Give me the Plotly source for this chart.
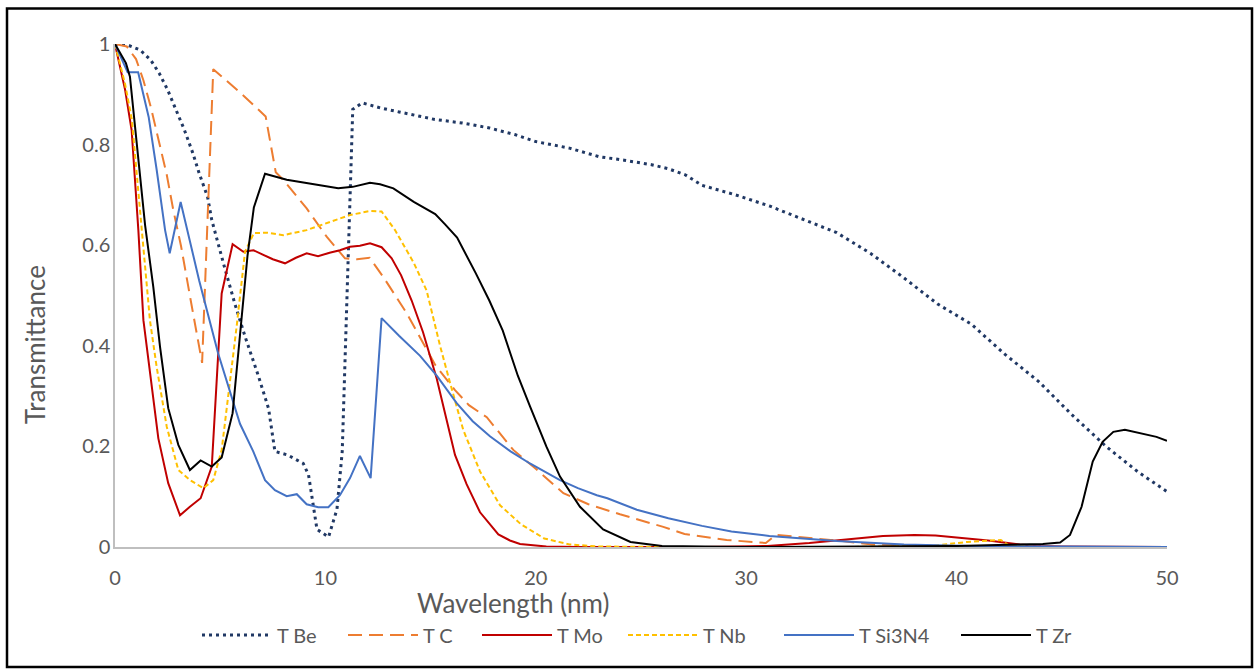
import plotly.graph_objects as go

# ---- data ----
be_x = [0, 0.6, 1.2, 1.7, 2.1, 2.5, 2.9, 3.3, 3.7, 4.0, 4.4, 4.6, 5.2, 5.7, 6.2, 6.8, 7.3, 7.6,
        8.2, 8.95, 9.2, 9.6, 10.15, 10.55, 10.8, 11.3, 11.75, 12.6, 13.5, 15.2, 16.5, 17.8, 19.0,
        20.0, 21.6, 23.0, 24.2, 25.5, 26.3, 27.1, 27.9, 29.5, 31.1, 32.7, 34.3, 35.9, 37.5, 39.1,
        40.7, 42.3, 43.9, 45.5, 47.1, 48.6, 50]
be_y = [1.0, 0.998, 0.988, 0.968, 0.942, 0.909, 0.869, 0.829, 0.783, 0.743, 0.696, 0.65, 0.557,
        0.483, 0.416, 0.342, 0.275, 0.19, 0.183, 0.166, 0.143, 0.035, 0.02, 0.075, 0.19, 0.87,
        0.883, 0.873, 0.865, 0.85, 0.843, 0.833, 0.82, 0.806, 0.793, 0.776, 0.769, 0.76, 0.752,
        0.74, 0.719, 0.70, 0.678, 0.652, 0.625, 0.584, 0.535, 0.483, 0.443, 0.383, 0.329, 0.262,
        0.2, 0.15, 0.11]

c_x = [0, 0.56, 1.0, 1.35, 1.7, 2.06, 2.46, 2.77, 3.14, 3.63, 4.14, 4.67, 6.04, 7.16, 7.64, 8.0,
       9.11, 10.06, 10.93, 11.5, 12.1, 12.75, 13.86, 15.22, 16.16, 16.82, 17.67, 18.93, 20.04,
       21.31, 22.5, 24.0, 26.06, 27.07, 29.07, 30.93, 31.41, 34.3, 36.0, 40.0, 45.0, 50.0]
c_y = [1.0, 0.995, 0.97, 0.928, 0.875, 0.809, 0.74, 0.67, 0.598, 0.483, 0.366, 0.95, 0.9, 0.856,
       0.745, 0.73, 0.673, 0.617, 0.574, 0.572, 0.575, 0.537, 0.465, 0.362, 0.312, 0.282, 0.258,
       0.193, 0.154, 0.107, 0.085, 0.065, 0.04, 0.026, 0.014, 0.008, 0.024, 0.013, 0.005, 0.002,
       0.0, 0.0]

mo_x = [0, 0.48, 0.79, 0.95, 1.11, 1.35, 1.58, 2.06, 2.53, 3.09, 3.56, 4.07, 4.6, 5.07, 5.59,
        6.1, 6.58, 7.5, 8.08, 8.6, 9.11, 9.65, 10.2, 10.69, 11.17, 11.64, 12.12, 12.67, 13.15,
        13.6, 14.1, 14.64, 15.29, 15.76, 16.16, 16.71, 17.35, 18.22, 18.77, 19.25, 20.5, 22, 25,
        28, 31, 33, 35, 36.5, 38, 39, 40, 41.5, 43, 44, 45, 47, 50]
mo_y = [1.0, 0.909, 0.829, 0.73, 0.63, 0.451, 0.372, 0.216, 0.127, 0.063, 0.08, 0.097, 0.16,
        0.504, 0.602, 0.587, 0.59, 0.572, 0.564, 0.575, 0.584, 0.578, 0.585, 0.59, 0.597, 0.599,
        0.604, 0.596, 0.574, 0.54, 0.49, 0.427, 0.335, 0.252, 0.183, 0.125, 0.069, 0.025, 0.013,
        0.006, 0.001, 0.0, 0.0, 0.0, 0.002, 0.008, 0.016, 0.022, 0.024, 0.023, 0.019, 0.013,
        0.005, 0.002, 0.001, 0.0, 0.0]

nb_x = [0, 0.48, 0.8, 1.0, 1.27, 1.66, 1.98, 2.46, 3.01, 3.56, 4.2, 4.67, 5.07, 5.39, 5.78, 6.18,
        6.6, 7.2, 8.0, 9.11, 10.06, 11.17, 12.12, 12.67, 13.31, 14.2, 14.81, 15.45, 15.9, 16.55,
        17.35, 18.3, 19.3, 20.4, 21.6, 23, 26, 30, 35, 39, 40.5, 42.1, 42.5, 44, 50]
nb_y = [1.0, 0.92, 0.85, 0.76, 0.64, 0.451, 0.358, 0.239, 0.153, 0.133, 0.117, 0.133, 0.193,
        0.299, 0.438, 0.587, 0.624, 0.625, 0.62, 0.63, 0.644, 0.66, 0.668, 0.667, 0.63, 0.565,
        0.51, 0.4, 0.33, 0.233, 0.15, 0.083, 0.045, 0.017, 0.005, 0.001, 0.0, 0.0, 0.0, 0.003,
        0.01, 0.014, 0.003, 0.0, 0.0]

si_x = [0, 0.6, 1.1, 1.6, 1.98, 2.38, 2.6, 3.12, 4.0, 4.9, 5.94, 6.57, 7.13, 7.6, 8.16, 8.64,
        9.11, 9.66, 10.14, 10.69, 11.17, 11.64, 12.15, 12.67, 13.5, 14.5, 15.3, 16.24, 17.0,
        17.82, 18.8, 19.72, 21.15, 22.0, 22.9, 23.4, 24.8, 26.3, 27.9, 29.3, 31.1, 34.3, 37.5,
        40.7, 45, 50]
si_y = [1.0, 0.944, 0.944, 0.855, 0.75, 0.63, 0.584, 0.686, 0.53, 0.385, 0.245, 0.19, 0.133,
        0.113, 0.101, 0.105, 0.085, 0.079, 0.079, 0.103, 0.137, 0.181, 0.137, 0.455, 0.42, 0.38,
        0.34, 0.286, 0.25, 0.22, 0.19, 0.166, 0.133, 0.117, 0.103, 0.097, 0.074, 0.057, 0.042,
        0.031, 0.022, 0.012, 0.005, 0.002, 0.001, 0.0]

zr_x = [0, 0.52, 0.71, 1.03, 1.43, 1.82, 2.14, 2.53, 3.01, 3.56, 4.07, 4.6, 5.07, 5.59, 5.94,
        6.3, 6.6, 7.13, 8.16, 9.11, 10.61, 11.3, 12.12, 12.6, 13.23, 14.2, 15.22, 15.7, 16.26,
        17.15, 17.79, 18.43, 19.15, 19.72, 20.5, 21.15, 22.1, 23.2, 24.5, 26, 30, 40, 44.1, 44.92,
        45.39, 45.94, 46.47, 46.94, 47.45, 48.0, 49.5, 50]
zr_y = [1.0, 0.962, 0.935, 0.809, 0.64, 0.517, 0.398, 0.276, 0.203, 0.153, 0.172, 0.16, 0.178,
        0.266, 0.42, 0.58, 0.675, 0.742, 0.73, 0.723, 0.713, 0.716, 0.724, 0.721, 0.713, 0.686,
        0.662, 0.641, 0.615, 0.544, 0.49, 0.43, 0.34, 0.28, 0.2, 0.14, 0.08, 0.035, 0.01, 0.002,
        0.0, 0.002, 0.006, 0.009, 0.024, 0.08, 0.17, 0.209, 0.229, 0.233, 0.219, 0.211]

x_ticks = [0, 10, 20, 30, 40, 50]
y_ticks = [0, 0.2, 0.4, 0.6, 0.8, 1]
y_ticklabels = ["0", "0.2", "0.4", "0.6", "0.8", "1"]

FONT = "Lato"
GREY = "#595959"

series = [
    ("T Be", be_x, be_y, "#203864", 3, "3px,4px"),
    ("T C", c_x, c_y, "#ED7D31", 2, "14px,7px"),
    ("T Mo", mo_x, mo_y, "#C00000", 2, "solid"),
    ("T Nb", nb_x, nb_y, "#FFC000", 2, "5px,3px"),
    ("T Si3N4", si_x, si_y, "#4472C4", 2, "solid"),
    ("T Zr", zr_x, zr_y, "#000000", 2, "solid"),
]
# pixel where each legend entry's sample line begins
legend_px = [202, 348, 482, 628, 784, 961]

W, H = 1254, 671
L, R, T, B = 115, 1167, 43.5, 547

fig = go.Figure()
legend_layouts = {}
for i, (name, xs, ys, col, w, dash) in enumerate(series):
    lg = "legend" if i == 0 else f"legend{i + 1}"
    fig.add_trace(go.Scatter(x=xs, y=ys, mode="lines", name=name, legend=lg,
                             line=dict(color=col, width=w, dash=dash)))
    legend_layouts[lg] = dict(
        orientation="h", x=(legend_px[i] - 5 - L) / (R - L), xanchor="left",
        y=(B - 635) / (B - T), yanchor="middle", borderwidth=0,
        font=dict(family=FONT, size=20, color=GREY), itemwidth=70,
        bgcolor="rgba(0,0,0,0)")

fig.update_layout(
    width=W, height=H,
    margin=dict(l=L, r=W - R, t=T, b=H - B, pad=0),
    paper_bgcolor="white", plot_bgcolor="white",
    font=dict(family=FONT, size=20, color=GREY),
    showlegend=True,
    xaxis=dict(range=[0, 50], tickvals=x_ticks, ticks="", showgrid=False, zeroline=False,
               showline=True, linecolor="#BFBFBF", linewidth=1.5,
               tickfont=dict(family=FONT, size=20, color=GREY), ticklabelstandoff=12),
    yaxis=dict(range=[0, 1], tickvals=y_ticks, ticktext=y_ticklabels, ticks="",
               showgrid=False, zeroline=False, showline=True, linecolor="#BFBFBF",
               linewidth=1.5, tickfont=dict(family=FONT, size=20, color=GREY),
               ticklabelstandoff=-1),
    annotations=[
        dict(text="Wavelength (nm)", xref="paper", yref="paper",
             x=(513 - L) / (R - L), y=(B - 603) / (B - T), xanchor="center", yanchor="middle",
             showarrow=False, font=dict(family=FONT, size=26, color=GREY)),
        dict(text="Transmittance", xref="paper", yref="paper", textangle=-90,
             x=(35 - L) / (R - L), y=(B - 345) / (B - T), xanchor="center", yanchor="middle",
             showarrow=False, font=dict(family=FONT, size=26, color=GREY)),
    ],
    shapes=[dict(type="rect", xref="paper", yref="paper",
                 x0=(7 - L) / (R - L), x1=(1252 - L) / (R - L),
                 y0=(B - 667) / (B - T), y1=(B - 8) / (B - T),
                 line=dict(color="black", width=2.5), fillcolor="rgba(0,0,0,0)")],
)
fig.update_layout(**legend_layouts)

fig.write_html("out.html")
